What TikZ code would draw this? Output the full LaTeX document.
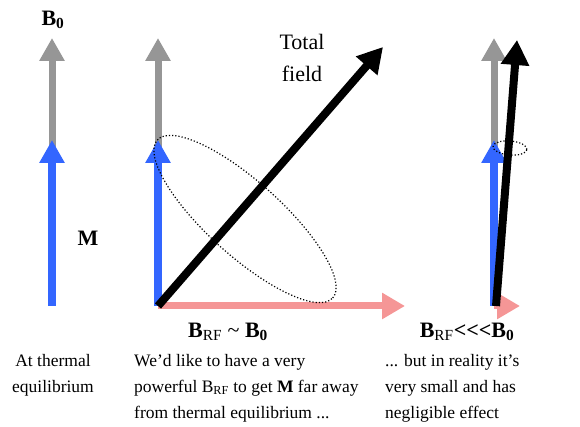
\documentclass[tikz,border=0pt]{standalone}
\usepackage{fontspec}
\setmainfont{Liberation Serif}
\usetikzlibrary{arrows.meta}

\definecolor{fieldgray}{RGB}{150,150,150}
\definecolor{magblue}{RGB}{51,102,255}
\definecolor{rfred}{RGB}{245,150,150}

\begin{document}
\begin{tikzpicture}[x=1pt, y=1pt,
    bfield/.style={draw=fieldgray, line width=7pt, -{Triangle[width=24pt,length=23pt]}},
    magvec/.style={draw=magblue, line width=8pt, -{Triangle[width=24pt,length=23pt]}},
    rfvec/.style={draw=rfred, line width=7pt, -{Triangle[width=25pt,length=23pt]}},
    totvec/.style={draw=black, line width=8pt, -{Triangle[width=27pt,length=25pt]}},
    precess/.style={draw=black, dotted, line width=1.2pt},
    biglabel/.style={font=\fontsize{22}{32}\selectfont, inner sep=0pt},
    caption/.style={font=\fontsize{17.5}{26}\selectfont, inner sep=0pt}]
    \useasboundingbox (0,0) rectangle (580,427);

    % Left panel: thermal equilibrium
    \coordinate (o1) at (52,121);
    \coordinate (g1) at (52,389);
    \coordinate (m1) at (52,287);
    \draw[bfield] (o1) -- (g1);
    \draw[magvec] (o1) -- (m1);
    \node[biglabel] (b0) at (53,407) {\textbf{B\textsubscript{0}}};
    \node[biglabel] (mlab) at (88,189) {\textbf{M}};
    \node[caption, align=center] (cap1) at (53,52) {At thermal\\equilibrium};

    % Middle panel: strong RF field
    \coordinate (o2) at (158,121);
    \coordinate (g2) at (158,389);
    \coordinate (m2) at (158,287);
    \coordinate (r2) at (405,121);
    \coordinate (t2) at (383,380);
    \coordinate (c2) at (245,208);
    \draw[bfield] (o2) -- (g2);
    \draw[magvec] (o2) -- (m2);
    \draw[rfvec] (o2) -- (r2);
    \draw[totvec] (o2) -- (t2);
    \draw[precess, rotate around={-42:(c2)}] (c2) ellipse (118 and 37);
    \node[biglabel, align=center] (tot) at (302,369) {Total\\field};
    \node[biglabel] (brf1) at (228,95) {\textbf{B}\textsubscript{RF} \textasciitilde{} \textbf{B\textsubscript{0}}};
    \node[caption, anchor=west, align=left] (cap2) at (134,39)
      {We’d like to have a very\\powerful B\textsubscript{RF} to get \textbf{M} far away\\from thermal equilibrium ...};

    % Right panel: weak RF field in reality
    \coordinate (o3) at (494,121);
    \coordinate (g3) at (494,389);
    \coordinate (m3) at (494,287);
    \coordinate (r3) at (520,121);
    \coordinate (t3) at (517,387);
    \coordinate (c3) at (510,279);
    \draw[bfield] (o3) -- (g3);
    \draw[magvec] (o3) -- (m3);
    \draw[rfvec] (o3) -- (r3);
    \draw[totvec] ([xshift=2pt]o3) -- (t3);
    \draw[precess, rotate around={-5:(c3)}] (c3) ellipse (17 and 7);
    \node[biglabel] (brf2) at (467,95) {\textbf{B}\textsubscript{RF}\textbf{<\kern0pt<\kern0pt<B\textsubscript{0}}};
    \node[caption, anchor=west, align=left] (cap3) at (385,39)
      {... but in reality it’s\\very small and has\\negligible effect};
\end{tikzpicture}
\end{document}
